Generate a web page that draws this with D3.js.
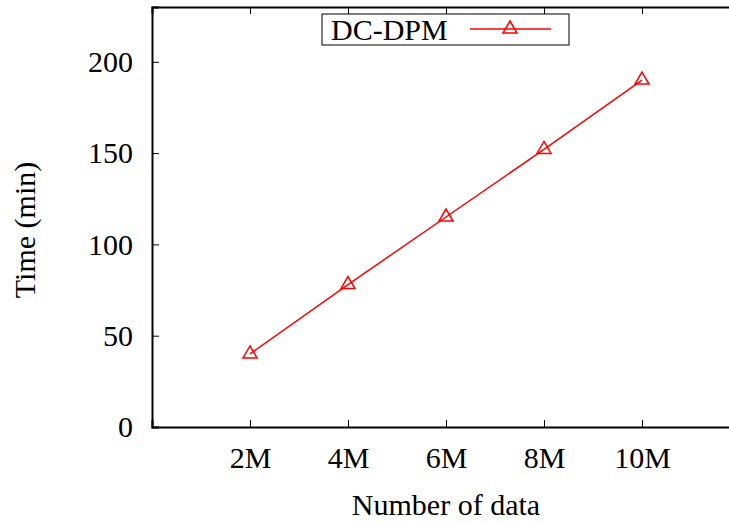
<!DOCTYPE html>
<html>
<head>
<meta charset="utf-8">
<script src="https://cdnjs.cloudflare.com/ajax/libs/d3/7.8.5/d3.min.js"></script>
<style>
  body { margin: 0; background: #fff; }
  text { font-family: "Liberation Serif", "Times New Roman", serif; fill: #000; }
</style>
</head>
<body>
<svg id="chart" width="729" height="523"></svg>
<script>
// data
const sizes = [2, 4, 6, 8, 10];           // millions of records
const times = [40, 78, 115, 152, 190];    // minutes
const xTicks = [2, 4, 6, 8, 10];
const yTicks = [0, 50, 100, 150, 200];
const seriesName = 'DC-DPM';

const svg = d3.select('#chart');
const plotLeft = 152, plotTop = 7, plotBottom = 427;
const plotWidth = 588;
const fontSize = '30px';

const x = d3.scaleLinear().domain([0, 12]).range([plotLeft, plotLeft + plotWidth]);
const y = d3.scaleLinear().domain([0, 230]).range([plotBottom, plotTop]);

// axes, ticks pointing inward
const xAxis = svg.append('g')
    .attr('transform', `translate(0,${plotBottom})`)
    .call(d3.axisBottom(x).tickValues(xTicks).tickFormat(d => d + 'M').tickSize(-7).tickPadding(20));
const xTop = svg.append('g')
    .attr('transform', `translate(0,${plotTop})`)
    .call(d3.axisTop(x).tickValues(xTicks).tickFormat('').tickSize(-7));
const yAxis = svg.append('g')
    .attr('transform', `translate(${plotLeft},0)`)
    .call(d3.axisLeft(y).tickValues(yTicks).tickSize(-7).tickPadding(19));

[xAxis, xTop, yAxis].forEach(g => {
    g.select('.domain').attr('stroke', '#000').attr('stroke-width', 2);
    g.selectAll('.tick line').attr('stroke', '#000').attr('stroke-width', 1);
    g.selectAll('.tick text').style('font-size', fontSize).attr('font-family', '"Liberation Serif", serif');
});

// gnuplot-style open triangle, centred on its centroid
const gpTriangle = {
    draw(ctx) {
        ctx.moveTo(0, -8);
        ctx.lineTo(7, 4);
        ctx.lineTo(-7, 4);
        ctx.closePath();
    }
};
const tri = d3.symbol().type(gpTriangle);

// line + markers
const line = d3.line().x((d, i) => x(sizes[i])).y(d => y(d));
svg.append('path')
    .datum(times)
    .attr('fill', 'none')
    .attr('stroke', '#ff0000')
    .attr('stroke-width', 1.5)
    .attr('d', line);

svg.selectAll('.pt')
    .data(times)
    .enter()
    .append('path')
    .attr('class', 'pt')
    .attr('transform', (d, i) => `translate(${x(sizes[i])},${y(d)})`)
    .attr('d', tri)
    .attr('fill', 'none')
    .attr('stroke', '#ff0000')
    .attr('stroke-width', 1.5);

// legend
const lg = svg.append('g');
lg.append('rect')
    .attr('x', 322).attr('y', 14).attr('width', 247).attr('height', 31)
    .attr('fill', '#fff').attr('stroke', '#000').attr('stroke-width', 1);
lg.append('text')
    .attr('x', 331).attr('y', 40)
    .style('font-size', fontSize)
    .text(seriesName);
lg.append('line')
    .attr('x1', 470).attr('x2', 551).attr('y1', 29).attr('y2', 29)
    .attr('stroke', '#ff0000').attr('stroke-width', 1.5);
lg.append('path')
    .attr('transform', 'translate(510,29)')
    .attr('d', tri)
    .attr('fill', 'none')
    .attr('stroke', '#ff0000')
    .attr('stroke-width', 1.5);

// axis titles
svg.append('text')
    .attr('transform', 'translate(35,230) rotate(-90)')
    .attr('text-anchor', 'middle')
    .style('font-size', fontSize)
    .text('Time (min)');
svg.append('text')
    .attr('x', 446).attr('y', 515)
    .attr('text-anchor', 'middle')
    .style('font-size', fontSize)
    .text('Number of data');
</script>
</body>
</html>
